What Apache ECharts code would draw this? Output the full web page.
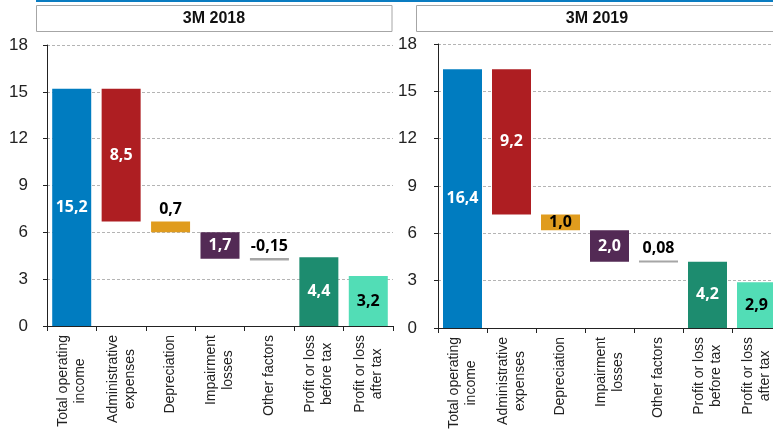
<!DOCTYPE html>
<html>
<head>
<meta charset="utf-8">
<script src="https://cdn.jsdelivr.net/npm/echarts@6/dist/echarts.min.js"></script>
<style>
  html, body { margin: 0; padding: 0; background: #fff; }
  #chart { width: 773px; height: 430px; }
</style>
</head>
<body>
<div id="chart"></div>
<script>
var categories = ['Total operating\nincome', 'Administrative\nexpenses', 'Depreciation', 'Impairment\nlosses',
    'Other factors', 'Profit or loss\nbefore tax', 'Profit or loss\nafter tax'];
var yTicks = [0, 3, 6, 9, 12, 15, 18];

// 3M 2018
var base2018 = [0, 6.7, 6.0, 4.3, 4.2, 0, 0];
var values2018 = [15.2, 8.5, 0.7, 1.7, -0.15, 4.4, 3.2];
var labels2018 = ['15,2', '8,5', '0,7', '1,7', '-0,15', '4,4', '3,2'];

// 3M 2019
var base2019 = [0, 7.2, 6.2, 4.2, 4.15, 0, 0];
var values2019 = [16.4, 9.2, 1.0, 2.0, 0.08, 4.2, 2.9];
var labels2019 = ['16,4', '9,2', '1,0', '2,0', '0,08', '4,2', '2,9'];

var barColors = ['#007cc0', '#ae1e22', '#e09c1e', '#532a55', '#a6a6a6', '#1d8c6f', '#52ddb6'];
// label placement per bar: w = white inside, k = black inside, t = black on top
var labelMode2018 = ['w', 'w', 't', 'w', 't', 'w', 'k'];
var labelMode2019 = ['w', 'w', 'k', 'w', 't', 'w', 'k'];

var axisFont = 'Liberation Sans, Arial, sans-serif';
var valueFont = 'Open Sans, sans-serif';

function buildBars(values, labels, modes) {
    return values.map(function (v, i) {
        var m = modes[i];
        return {
            value: Math.abs(v),
            itemStyle: { color: barColors[i] },
            label: {
                show: true,
                position: m == 't' ? 'top' : 'inside',
                distance: 4,
                color: m == 'w' ? '#fff' : '#000',
                fontFamily: valueFont,
                fontWeight: 'bold',
                fontSize: 16,
                formatter: function () { return labels[i]; }
            }
        };
    });
}

function xAxisFor(idx) {
    return {
        type: 'category',
        gridIndex: idx,
        data: categories,
        axisLine: { lineStyle: { color: '#222', width: 1 } },
        axisTick: { show: true, length: 5, lineStyle: { color: '#222' } },
        axisLabel: {
            interval: 0,
            rotate: 90,
            margin: 9,
            color: '#222',
            fontFamily: axisFont,
            fontSize: 14,
            lineHeight: 17,
            formatter: function (v) {
                return v.split('\n').map(function (s) { return '{c|' + s + '}'; }).join('\n');
            },
            rich: {
                c: { align: 'center', fontFamily: axisFont, fontSize: 14, lineHeight: 17, color: '#222' }
            }
        }
    };
}

function yAxisFor(idx, margin) {
    return {
        type: 'value',
        gridIndex: idx,
        min: yTicks[0],
        max: yTicks[yTicks.length - 1],
        interval: 3,
        axisLine: { show: true, lineStyle: { color: '#222', width: 1 } },
        axisTick: { show: true, length: 4, lineStyle: { color: '#222' } },
        axisLabel: { margin: margin, color: '#222', fontFamily: axisFont, fontSize: 17 },
        splitLine: { show: true, lineStyle: { color: '#b4b4b4', type: [3, 2], width: 1 } }
    };
}

function seriesFor(idx, base, values, labels, modes) {
    return [{
        type: 'bar',
        xAxisIndex: idx,
        yAxisIndex: idx,
        stack: 'w' + idx,
        barWidth: 39,
        silent: true,
        itemStyle: { color: 'transparent' },
        data: base
    }, {
        type: 'bar',
        xAxisIndex: idx,
        yAxisIndex: idx,
        stack: 'w' + idx,
        barWidth: 39,
        barMinHeight: 2,
        data: buildBars(values, labels, modes)
    }];
}

var myChart = echarts.init(document.getElementById('chart'));
var option = {
    backgroundColor: '#fff',
    animation: false,
    grid: [
        { left: 47, top: 45, width: 346, height: 281, outerBoundsMode: 'none', containLabel: false },
        { left: 438, top: 44, width: 343, height: 284, outerBoundsMode: 'none', containLabel: false }
    ],
    xAxis: [xAxisFor(0), xAxisFor(1)],
    yAxis: [yAxisFor(0, 19), yAxisFor(1, 21)],
    series: seriesFor(0, base2018, values2018, labels2018, labelMode2018)
        .concat(seriesFor(1, base2019, values2019, labels2019, labelMode2019)),
    graphic: [
        { type: 'rect', shape: { x: 36, y: 0, width: 737, height: 2 }, style: { fill: '#0a7cc1' } },
        { type: 'rect', shape: { x: 36.5, y: 5.5, width: 355.5, height: 26 }, style: { fill: '#fff', stroke: '#a6a6a6', lineWidth: 1 } },
        { type: 'rect', shape: { x: 416.5, y: 5.5, width: 362, height: 26 }, style: { fill: '#fff', stroke: '#a6a6a6', lineWidth: 1 } },
        { type: 'text', x: 214, y: 19, style: { text: '3M 2018', fill: '#111', font: 'bold 16px Liberation Sans, Arial, sans-serif', align: 'center', verticalAlign: 'middle' } },
        { type: 'text', x: 597, y: 19, style: { text: '3M 2019', fill: '#111', font: 'bold 16px Liberation Sans, Arial, sans-serif', align: 'center', verticalAlign: 'middle' } }
    ]
};
myChart.setOption(option);
</script>
</body>
</html>
